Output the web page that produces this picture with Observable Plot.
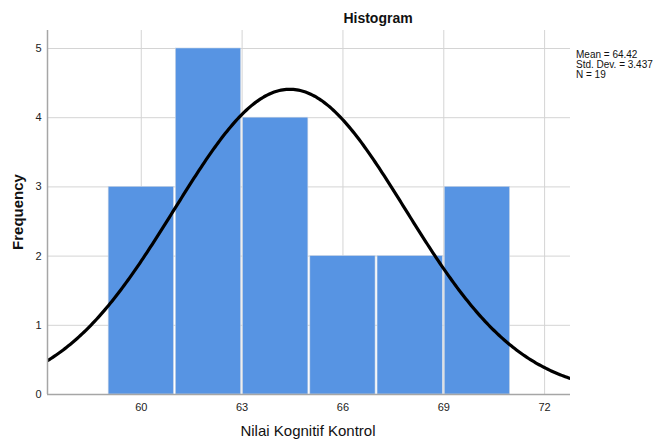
<!DOCTYPE html>
<html>
<head>
<meta charset="utf-8">
<script src="https://cdn.jsdelivr.net/npm/d3@7"></script>
<script src="https://cdn.jsdelivr.net/npm/@observablehq/plot@0.6"></script>
<style>
  html, body { margin: 0; padding: 0; background: #fff; }
  #chart { width: 654px; height: 439px; }
</style>
</head>
<body>
<div id="chart"></div>
<script>
// Histogram bins (lower edge) and frequencies
const binStarts = [59, 61, 63, 65, 67, 69];
const binWidth = 2;
const frequencies = [3, 5, 4, 2, 2, 3];
const xTicks = [60, 63, 66, 69, 72];
const yTicks = [0, 1, 2, 3, 4, 5];
// Statistics printed on the chart
const meanValue = 64.42;
const stdDev = 3.437;
const nCount = 19;
const statLabels = ["Mean = 64.42", "Std. Dev. = 3.437", "N = 19"];

const xDomain = [57.21, 72.77];
const yDomain = [0, 5.26];

const bins = binStarts.map((s, i) => ({x1: s, x2: s + binWidth, y: frequencies[i]}));

// Normal curve scaled to the histogram (N * bin width * density)
const curve = d3.range(0, 301).map(i => {
  const x = xDomain[0] + (xDomain[1] - xDomain[0]) * i / 300;
  const z = (x - meanValue) / stdDev;
  return {x, y: nCount * binWidth * Math.exp(-z * z / 2) / (stdDev * Math.sqrt(2 * Math.PI))};
});

const font = "'Liberation Sans', Arial, sans-serif";

const chart = Plot.plot({
  width: 654,
  height: 439,
  marginLeft: 47,
  marginRight: 84,
  marginTop: 30,
  marginBottom: 45,
  style: {fontFamily: font, fontSize: "11px", color: "#222", background: "#fff"},
  x: {domain: xDomain, ticks: xTicks, tickSize: 0, tickPadding: 9, label: null, tickFormat: d => String(d)},
  y: {domain: yDomain, ticks: yTicks, tickSize: 0, tickPadding: 6, label: null, tickFormat: d => String(d)},
  marks: [
    Plot.gridY(yTicks, {stroke: "#d4d4d4", strokeOpacity: 1, strokeWidth: 1}),
    Plot.gridX(xTicks, {stroke: "#d4d4d4", strokeOpacity: 1, strokeWidth: 1}),
    Plot.rectY(bins, {x1: "x1", x2: "x2", y: "y", fill: "#5794e3", stroke: "#c8d4e4", strokeWidth: 0.6, insetLeft: 1, insetRight: 1}),
    Plot.line(curve, {x: "x", y: "y", stroke: "#000", strokeWidth: 3.2, clip: true}),
    Plot.ruleX([xDomain[0]], {stroke: "#a6a6a6", strokeWidth: 1.5}),
    Plot.ruleY([0], {stroke: "#a6a6a6", strokeWidth: 1.5})
  ]
});

const svg = d3.select(chart);
svg.append("text")
  .attr("x", 378).attr("y", 23)
  .attr("text-anchor", "middle")
  .attr("font-family", font).attr("font-size", 14).attr("font-weight", "bold")
  .attr("fill", "#111")
  .text("Histogram");
svg.append("text")
  .attr("transform", "translate(23,212) rotate(-90)")
  .attr("text-anchor", "middle")
  .attr("font-family", font).attr("font-size", 15).attr("font-weight", "bold")
  .attr("fill", "#111")
  .text("Frequency");
svg.append("text")
  .attr("x", 308).attr("y", 436)
  .attr("text-anchor", "middle")
  .attr("font-family", font).attr("font-size", 15)
  .attr("fill", "#111")
  .text("Nilai Kognitif Kontrol");
statLabels.forEach((t, i) => {
  svg.append("text")
    .attr("x", 576).attr("y", 58 + i * 10)
    .attr("text-anchor", "start")
    .attr("font-family", font).attr("font-size", 10)
    .attr("fill", "#111")
    .text(t);
});

document.getElementById("chart").appendChild(chart);
</script>
</body>
</html>
